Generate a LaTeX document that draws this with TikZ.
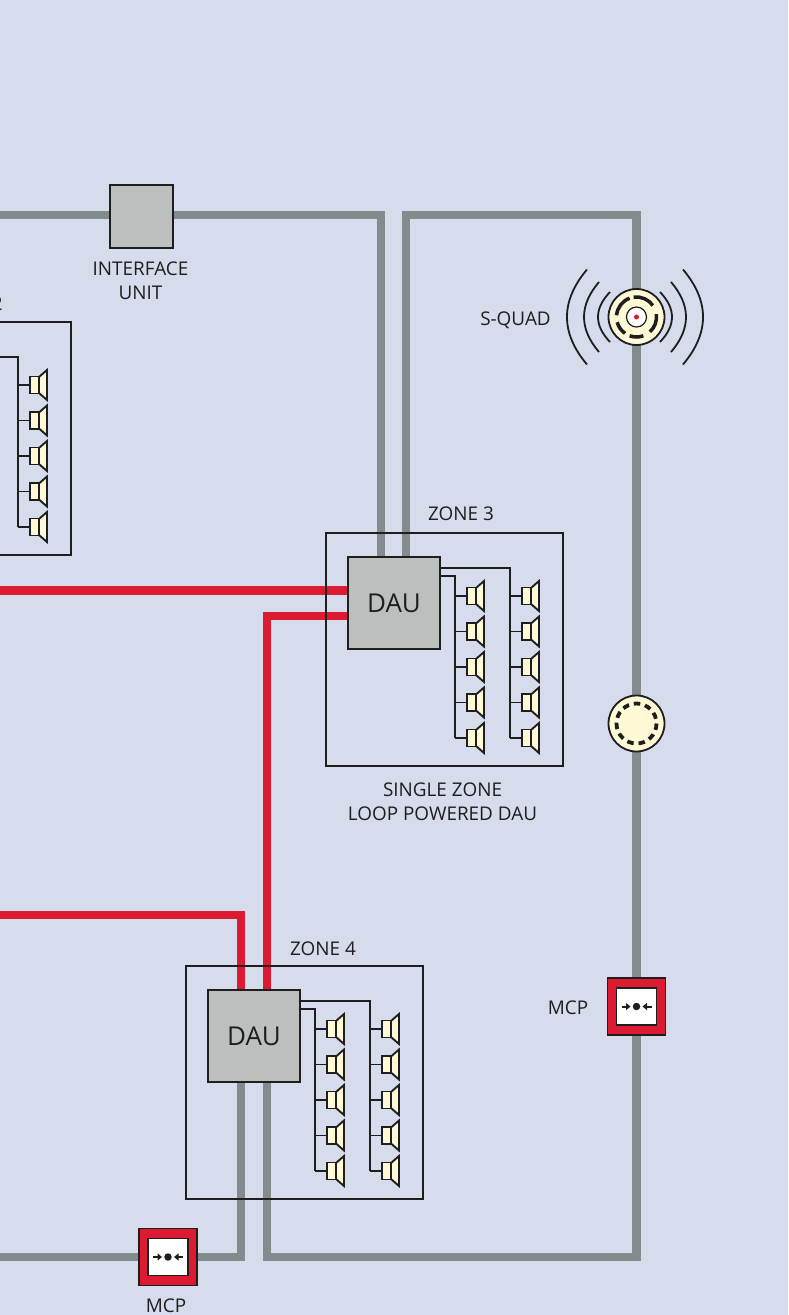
\documentclass[tikz,border=0pt]{standalone}
\usepackage{fontspec}
\setmainfont{Open Sans}
\usetikzlibrary{arrows.meta}
\definecolor{panelbg}{HTML}{D6DCEC}
\definecolor{loopgrey}{HTML}{828C8C}
\definecolor{unitgrey}{HTML}{BBC0BF}
\definecolor{alarmred}{HTML}{DC1A32}
\definecolor{cream}{HTML}{FFF9D6}
\definecolor{ink}{HTML}{1E1E1E}
\pgfdeclarelayer{lines}
\pgfsetlayers{lines,main}
\tikzset{
    wire/.style={draw=ink,line width=1.7pt},
    greyloop/.style={draw=loopgrey,line width=8.5pt,line join=miter},
    redloop/.style={draw=alarmred,line width=8.5pt,line join=miter},
    zonebox/.style={draw=ink,line width=1.6pt,minimum width=237pt,minimum height=233pt,inner sep=0pt,outer sep=0pt},
    daubox/.style={draw=ink,line width=1.6pt,fill=unitgrey,minimum width=92pt,minimum height=92pt,inner sep=0pt,outer sep=0pt,text=ink,font=\fontsize{26}{30}\selectfont},
    label/.style={text=ink,font=\fontsize{18.9}{24}\selectfont,align=center,inner sep=0pt},
    spkbody/.style={draw=ink,line width=1.9pt,fill=cream,minimum width=9pt,minimum height=17pt,inner sep=0pt,outer sep=0pt},
    device/.style={circle,draw=ink,line width=1.8pt,fill=cream,minimum size=56pt,inner sep=0pt,outer sep=0pt},
    speaker/.pic={
        \node [spkbody] (-body) at (16.5,0) {};
        \draw [wire] (0,0) -- (-body);
        \draw [wire,line width=1.9pt,fill=cream] (21,-8) -- (29,-15) -- (29,15) -- (21,8) -- cycle;
    },
    spkcol/.pic={
        \coordinate (-bus) at (0,0);
        \coordinate (-end) at (0,142);
        \draw [wire] (-bus) -- (-end);
        \pic (-a) at (0,0) {speaker};
        \pic (-b) at (0,35.5) {speaker};
        \pic (-c) at (0,71) {speaker};
        \pic (-d) at (0,106.5) {speaker};
        \pic (-e) at (0,142) {speaker};
    },
    mcp/.pic={
        \node [draw=ink,line width=1.8pt,fill=alarmred,minimum width=58pt,minimum height=57pt,inner sep=0pt,outer sep=0pt] (-box) at (0,0) {};
        \node [draw=ink,line width=1.8pt,fill=white,minimum width=40pt,minimum height=37pt,inner sep=0pt] (-pane) at (0,0) {};
        \node [circle,fill=ink,minimum size=7.5pt,inner sep=0pt] (-dot) at (0,0) {};
        \draw [-{Triangle[length=4.5pt,width=7pt]},draw=ink,fill=ink,line width=2pt] (-15,0) -- (-6,0);
        \draw [-{Triangle[length=4.5pt,width=7pt]},draw=ink,fill=ink,line width=2pt] (15,0) -- (6,0);
    }
}

\begin{document}
\begin{tikzpicture}[x=1pt,y=-1pt]
    \useasboundingbox (0,0) rectangle (788,1315);

    % interface unit and top line
    \node [draw=ink,line width=1.6pt,fill=unitgrey,minimum width=63pt,minimum height=63pt,inner sep=0pt,outer sep=0pt] (unit) at (141.5,216.5) {};
    \node [label] (unitlabel) at (140.5,280.5) {INTERFACE\\UNIT};

    % zone 2, cut off by the page
    \coordinate (z2a) at (0,322);
    \coordinate (z2b) at (71,322);
    \coordinate (z2c) at (71,555);
    \coordinate (z2d) at (0,555);
    \draw [wire] (z2a) -- (z2b) -- (z2c) -- (z2d);
    \node [label,anchor=east] (z2label) at (3,303.5) {ZONE 2};
    \pic (s2) at (18,385) {spkcol};
    \coordinate (t2) at (0,357);
    \draw [wire] (t2) -| (s2-bus);

    % zone 3
    \node [zonebox] (z3) at (444.5,649.5) {};
    \node [daubox] (d3) at (394,603) {DAU};
    \node [label] (z3label) at (461,513.5) {ZONE 3};
    \node [label] (z3note) at (442.5,801.5) {SINGLE ZONE\\LOOP POWERED DAU};
    \pic (s3a) at (455,596) {spkcol};
    \pic (s3b) at (510,596) {spkcol};
    \coordinate (t3a) at (440,576);
    \coordinate (t3b) at (440,568);
    \draw [wire] (t3a) -| (s3a-bus);
    \draw [wire] (t3b) -| (s3b-bus);

    % zone 4
    \node [zonebox] (z4) at (304.5,1082.5) {};
    \node [daubox] (d4) at (254,1036) {DAU};
    \node [label] (z4label) at (323,948.5) {ZONE 4};
    \pic (s4a) at (315,1029) {spkcol};
    \pic (s4b) at (370,1029) {spkcol};
    \coordinate (t4a) at (300,1009);
    \coordinate (t4b) at (300,1001);
    \draw [wire] (t4a) -| (s4a-bus);
    \draw [wire] (t4b) -| (s4b-bus);

    % devices on the loop
    \node [device] (squad) at (636.5,317) {};
    \node [label] (squadlabel) at (515.5,320.5) {S-QUAD};
    \draw [ink,line width=3.5pt] (squad.center) ++(70:20) arc [start angle=70,end angle=110,radius=20];
    \draw [ink,line width=3.5pt] (squad.center) ++(125:20) arc [start angle=125,end angle=165,radius=20];
    \draw [ink,line width=3.5pt] (squad.center) ++(185:20) arc [start angle=185,end angle=250,radius=20];
    \draw [ink,line width=3.5pt] (squad.center) ++(262:20) arc [start angle=262,end angle=325,radius=20];
    \draw [ink,line width=3.5pt] (squad.center) ++(-8:20) arc [start angle=-8,end angle=48,radius=20];
    \node [circle,draw=ink,line width=1.2pt,fill=white,minimum size=20pt,inner sep=0pt] (squadeye) at (squad.center) {};
    \node [circle,fill=alarmred,minimum size=5pt,inner sep=0pt] (squaddot) at (squad.center) {};
    \foreach \e/\c/\h in {25/41/25,36/56/35,48/74.7/47.5}{
        \draw [ink,line width=1.8pt] (635-\e,317-\h) .. controls (635-\c,317-\h/3) and (635-\c,317+\h/3) .. (635-\e,317+\h);
        \draw [ink,line width=1.8pt] (635+\e,317-\h) .. controls (635+\c,317-\h/3) and (635+\c,317+\h/3) .. (635+\e,317+\h);
    }
    \node [device] (sounder) at (636.5,723.5) {};
    \draw [ink,line width=3.8pt,dash pattern=on 6.5pt off 4.92pt] (sounder.center) circle [radius=20];
    \pic (mcpb) at (636.5,1006.5) {mcp};
    \node [label] (mcpblabel) at (568,1007.5) {MCP};
    \pic (mcpa) at (168,1257) {mcp};
    \node [label] (mcpalabel) at (166,1305.5) {MCP};

    % corners and free ends of the loops
    \coordinate (g1) at (0,215);
    \coordinate (g2) at (381,215);
    \coordinate (g3) at (381,557);
    \coordinate (g4) at (406,557);
    \coordinate (g5) at (406,215);
    \coordinate (g6) at (636.5,215);
    \coordinate (g7) at (636.5,1257);
    \coordinate (g8) at (267,1257);
    \coordinate (g9) at (267,1082);
    \coordinate (g10) at (241,1082);
    \coordinate (g11) at (241,1257);
    \coordinate (g12) at (0,1257);
    \coordinate (r1) at (0,590.5);
    \coordinate (r2) at (348,590.5);
    \coordinate (r3) at (348,616);
    \coordinate (r4) at (267,616);
    \coordinate (r5) at (267,990);
    \coordinate (r6) at (0,915);
    \coordinate (r7) at (241,915);
    \coordinate (r8) at (241,990);

    \begin{pgfonlayer}{lines}
        \fill [panelbg] (0,0) rectangle (788,1315);
        \draw [greyloop] (g1) -- (unit.center |- g1) -- (g2) -- (g3);
        \draw [greyloop] (g4) -- (g5) -- (g6) -- (squad.center) -- (sounder.center) -- (mcpb-box.center) -- (g7) -- (g8) -- (g9);
        \draw [greyloop] (g10) -- (g11) -- (mcpa-box.center) -- (g12);
        \draw [redloop] (r1) -- (r2);
        \draw [redloop] (r3) -- (r4) -- (r5);
        \draw [redloop] (r6) -- (r7) -- (r8);
    \end{pgfonlayer}
\end{tikzpicture}
\end{document}
